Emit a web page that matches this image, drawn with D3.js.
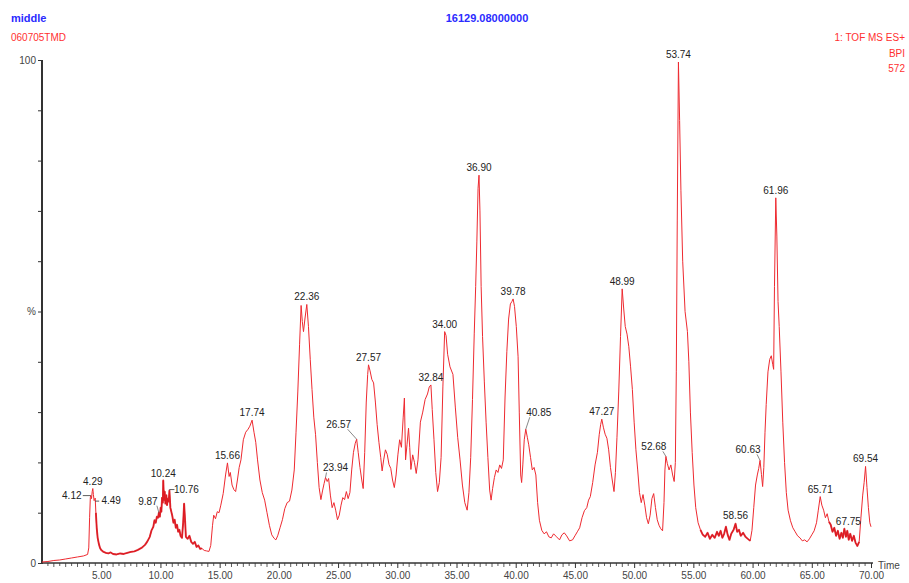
<!DOCTYPE html>
<html>
<head>
<meta charset="utf-8">
<script src="https://cdn.jsdelivr.net/npm/d3@7/dist/d3.min.js"></script>
<style>
  html, body { margin: 0; padding: 0; background: #ffffff; }
  svg { display: block; }
  text { font-family: "Liberation Sans", Arial, sans-serif; }
</style>
</head>
<body>
<svg id="chart" width="909" height="583"></svg>
<script>
// Base peak intensity chromatogram: retention time (min) and relative intensity (%)
const times = [
  0.0,0.5,1.0,1.5,2.0,2.5,3.0,3.5,3.85,3.95,4.02,4.08,4.12,4.18,4.24,4.29,4.34,4.40,4.45,4.49,
  4.55,4.62,4.7,4.8,4.9,5.0,5.2,5.4,5.6,5.8,6.0,6.3,6.6,6.9,7.2,7.5,7.8,8.1,8.4,8.7,
  8.9,9.1,9.25,9.4,9.5,9.6,9.7,9.8,9.87,9.95,10.02,10.08,10.14,10.2,10.24,10.3,10.36,10.42,10.5,10.56,
  10.62,10.7,10.76,10.84,10.92,11.0,11.1,11.2,11.3,11.4,11.5,11.6,11.7,11.82,11.92,12.0,12.08,12.15,12.3,12.45,
  12.6,12.75,12.9,13.05,13.2,13.35,13.5,13.7,13.9,14.1,14.25,14.4,14.5,14.65,14.8,14.95,15.1,15.3,15.5,15.66,
  15.8,15.9,16.05,16.2,16.35,16.5,16.65,16.8,17.0,17.2,17.4,17.55,17.74,17.9,18.05,18.2,18.4,18.6,18.8,19.0,
  19.2,19.4,19.6,19.75,19.9,20.1,20.3,20.5,20.7,20.9,21.1,21.3,21.45,21.6,21.75,21.88,21.98,22.08,22.2,22.36,
  22.5,22.65,22.8,22.95,23.1,23.25,23.4,23.55,23.7,23.82,23.94,24.08,24.2,24.35,24.5,24.65,24.8,24.95,25.1,25.25,
  25.4,25.55,25.7,25.85,26.0,26.15,26.3,26.45,26.57,26.7,26.85,27.0,27.12,27.25,27.38,27.5,27.57,27.7,27.85,28.0,
  28.15,28.3,28.45,28.6,28.72,28.85,29.0,29.15,29.3,29.45,29.6,29.75,29.9,30.05,30.2,30.35,30.5,30.6,30.7,30.82,
  30.95,31.05,31.15,31.3,31.45,31.6,31.75,31.95,32.15,32.35,32.55,32.7,32.84,32.95,33.1,33.25,33.4,33.55,33.7,33.85,
  34.0,34.12,34.25,34.45,34.7,34.9,35.1,35.3,35.5,35.7,35.9,36.05,36.2,36.35,36.5,36.62,36.72,36.82,36.9,36.98,
  37.08,37.2,37.35,37.5,37.65,37.8,37.92,38.05,38.2,38.35,38.5,38.65,38.8,38.95,39.1,39.25,39.4,39.55,39.68,39.78,
  39.9,40.05,40.2,40.3,40.42,40.5,40.6,40.72,40.85,40.98,41.1,41.25,41.4,41.55,41.7,41.85,42.0,42.2,42.4,42.6,
  42.8,43.0,43.2,43.45,43.7,43.9,44.1,44.3,44.55,44.8,45.0,45.2,45.4,45.6,45.8,46.0,46.15,46.3,46.5,46.7,
  46.9,47.05,47.17,47.27,47.4,47.55,47.7,47.85,48.0,48.15,48.3,48.42,48.55,48.7,48.85,48.99,49.12,49.25,49.4,49.55,
  49.7,49.85,50.0,50.15,50.3,50.45,50.6,50.75,50.9,51.05,51.2,51.35,51.5,51.65,51.8,51.95,52.1,52.25,52.4,52.52,
  52.6,52.68,52.8,52.95,53.1,53.25,53.38,53.48,53.56,53.64,53.74,53.84,53.95,54.1,54.3,54.5,54.62,54.75,54.9,55.05,
  55.2,55.4,55.6,55.8,56.0,56.2,56.4,56.6,56.8,57.0,57.15,57.3,57.45,57.6,57.75,57.9,58.05,58.2,58.4,58.56,
  58.7,58.85,59.0,59.2,59.4,59.6,59.8,59.95,60.1,60.25,60.4,60.52,60.63,60.75,60.85,60.95,61.05,61.15,61.3,61.45,
  61.58,61.7,61.78,61.85,61.96,62.05,62.15,62.25,62.4,62.55,62.7,62.85,63.0,63.2,63.4,63.6,63.8,64.0,64.2,64.4,
  64.6,64.8,65.0,65.2,65.4,65.55,65.71,65.85,66.0,66.15,66.3,66.45,66.6,66.75,66.9,67.05,67.2,67.35,67.5,67.62,
  67.75,67.88,68.0,68.12,68.25,68.4,68.55,68.7,68.85,69.0,69.15,69.3,69.42,69.54,69.66,69.78,69.9,70.0
];
const intensity = [
  0.2,0.3,0.5,0.6,0.8,1.0,1.2,1.4,1.7,3.0,9.0,13.0,13.4,12.8,14.2,14.8,13.6,12.4,12.6,12.9,
  10.0,7.0,5.0,3.8,3.0,2.6,2.2,2.0,1.9,2.1,1.8,1.7,1.9,1.8,2.0,2.2,2.3,2.6,3.0,3.6,
  4.3,5.2,6.5,7.2,8.5,8.0,9.2,9.0,10.0,9.2,11.0,10.2,13.0,12.0,16.4,12.5,14.2,11.8,13.5,11.5,
  12.8,12.2,14.4,11.0,10.2,9.4,8.0,8.6,7.0,7.6,6.2,6.6,5.4,5.0,8.0,11.8,8.5,5.2,4.8,5.4,
  4.2,3.8,4.2,3.2,3.5,2.8,2.9,2.5,2.4,2.3,3.5,7.5,9.5,8.8,10.2,10.0,11.5,13.8,17.5,19.9,
  17.2,18.0,15.5,14.6,14.2,16.5,19.0,20.5,24.5,26.0,26.6,27.2,28.4,26.0,24.0,20.5,16.5,14.0,12.5,10.0,
  7.5,5.6,4.9,4.6,5.4,7.0,8.6,10.8,12.0,12.3,14.5,18.5,26.0,34.0,43.5,51.2,48.0,46.0,48.5,51.4,
  47.0,40.5,34.5,29.0,25.5,20.0,15.0,12.6,14.5,15.8,17.0,16.2,16.8,13.5,11.0,12.0,10.5,8.6,9.5,11.5,
  13.0,12.6,14.2,12.8,14.0,18.5,22.0,23.8,24.6,22.0,19.0,16.5,14.8,22.0,32.0,37.5,39.4,38.2,36.5,35.8,
  32.0,27.5,24.0,21.0,18.3,20.5,22.5,21.6,19.6,18.8,16.5,15.0,17.5,21.5,24.5,23.0,29.0,32.8,20.5,23.5,
  26.8,23.0,18.6,21.5,20.0,17.8,20.5,28.0,30.0,32.5,33.6,35.0,35.4,30.5,24.5,18.0,14.2,16.0,21.0,35.0,
  46.0,45.2,41.5,39.0,37.5,31.0,25.0,20.5,15.5,12.0,10.5,14.0,21.0,32.5,45.7,55.0,64.0,74.5,77.1,70.0,
  55.0,45.0,36.0,28.0,21.0,14.5,12.5,14.8,17.0,18.5,18.0,19.5,18.8,20.5,33.0,42.0,48.5,51.5,52.0,52.5,
  51.0,47.0,41.0,30.0,17.5,16.0,19.5,24.5,26.6,25.0,23.5,21.0,18.5,19.0,17.5,12.0,8.5,6.5,5.8,6.2,
  5.2,5.0,5.8,5.2,4.6,5.6,6.0,5.4,4.4,4.6,5.4,6.2,7.0,9.0,10.4,11.0,12.5,13.2,16.0,19.5,
  22.0,25.5,27.5,28.6,27.0,25.6,24.8,22.5,19.0,16.5,14.2,18.0,25.0,34.0,45.0,54.5,50.5,47.0,45.5,43.0,
  39.0,34.5,28.0,22.5,18.5,14.0,12.0,13.6,11.5,9.0,7.8,9.5,12.8,13.8,11.0,8.6,7.5,6.8,6.4,12.0,
  18.5,21.2,19.8,18.5,19.5,17.5,16.2,20.0,38.0,68.0,99.6,88.0,74.0,60.0,50.0,46.0,40.0,30.0,22.0,15.5,
  11.0,8.0,6.6,5.6,5.2,6.0,4.8,5.6,5.0,6.2,5.4,6.4,5.0,5.8,7.2,5.6,4.6,5.8,6.6,7.8,
  6.2,6.6,5.4,6.0,5.2,4.8,4.4,6.5,11.0,15.5,17.5,18.8,20.4,17.6,15.2,19.0,26.0,31.5,38.0,40.5,
  41.2,39.5,38.5,55.0,72.6,65.0,52.0,47.0,38.0,28.0,20.0,14.0,10.5,8.4,7.0,6.2,5.4,5.0,4.4,4.6,
  4.2,4.8,5.6,6.4,8.0,10.5,13.2,11.5,10.5,9.0,9.8,8.2,7.6,6.2,7.0,5.4,6.4,4.8,6.0,5.0,
  6.8,5.2,6.4,4.6,5.8,4.4,5.4,4.0,3.4,4.2,9.0,13.5,16.0,19.2,15.0,11.0,8.0,7.2
];

// Annotated peaks (retention times drawn as labels)
const peakTimes  = [4.12, 4.29, 4.49, 9.87, 10.24, 10.76, 15.66, 17.74, 22.36, 23.94, 26.57, 27.57,
                    32.84, 34.00, 36.90, 39.78, 40.85, 47.27, 48.99, 52.68, 53.74, 58.56, 60.63, 61.96,
                    65.71, 67.75, 69.54];
const peakLabels = peakTimes.map(t => t.toFixed(2));

// Axis ticks
const xMajorTicks = [5, 10, 15, 20, 25, 30, 35, 40, 45, 50, 55, 60, 65, 70];
const yTickValues = [0, 10, 20, 30, 40, 50, 60, 70, 80, 90, 100];
const yTickLabels = { 0: "0", 50: "%", 100: "100" };

// Header text
const headerLeft  = ["middle", "060705TMD"];
const headerMid   = "16129.08000000";
const headerRight = ["1: TOF MS ES+", "BPI", "572"];

// Dense low-level stretches that the acquisition renders as a heavier band (min)
const noisyRanges = [[4.5, 13.6], [55.6, 59.9], [66.4, 69.1]];

const svg = d3.select("#chart");
const x = d3.scaleLinear().domain([0, 70]).range([42, 871]);
const y = d3.scaleLinear().domain([0, 100]).range([563, 60]);

const blue = "#2b2bff", red = "#ff3030", ink = "#333333";

// Header
svg.append("text").attr("x", 11).attr("y", 22).attr("fill", blue)
  .attr("font-size", 11).attr("font-weight", "bold").text(headerLeft[0]);
svg.append("text").attr("x", 11).attr("y", 41).attr("fill", red)
  .attr("font-size", 10).text(headerLeft[1]);
svg.append("text").attr("x", 487).attr("y", 22).attr("fill", blue)
  .attr("font-size", 11).attr("font-weight", "bold").attr("text-anchor", "middle").text(headerMid);
headerRight.forEach((s, i) => {
  svg.append("text").attr("x", 905).attr("y", 41 + i * 15.5).attr("fill", red)
    .attr("font-size", 10).attr("text-anchor", "end").text(s);
});

// X axis: major ticks with labels, minor ticks every half minute
const xAxis = d3.axisBottom(x).tickValues(xMajorTicks)
  .tickFormat(d3.format(".2f")).tickSize(5).tickPadding(4);
const gx = svg.append("g").attr("transform", `translate(0,${y(0)})`).call(xAxis);
gx.select(".domain").attr("stroke", ink).attr("stroke-width", 1.5).attr("d", `M${x(0)},0H${x(70)+2}`);
gx.selectAll(".tick line").attr("stroke", ink);
gx.selectAll(".tick text").attr("fill", "#444").attr("font-size", 10)
  .attr("font-family", "Liberation Sans, Arial, sans-serif");
const minor = d3.range(0.5, 70.01, 0.5).filter(v => v % 5 !== 0);
svg.append("g").selectAll("line").data(minor).join("line")
  .attr("x1", d => x(d)).attr("x2", d => x(d))
  .attr("y1", y(0)).attr("y2", d => y(0) + (d % 1 === 0 ? 4 : 3))
  .attr("stroke", ink).attr("stroke-width", 0.8);
svg.append("text").attr("x", 878).attr("y", 569).attr("fill", "#444")
  .attr("font-size", 10).text("Time");

// Y axis
const yAxis = d3.axisLeft(y).tickValues(yTickValues)
  .tickFormat(d => yTickLabels[d] || "").tickSize(4).tickPadding(2);
const gy = svg.append("g").attr("transform", `translate(${x(0)},0)`).call(yAxis);
gy.select(".domain").attr("stroke", ink).attr("stroke-width", 2).attr("d", `M0,${y(100)}V${y(0)+1}`);
gy.selectAll(".tick line").attr("stroke", ink);
gy.selectAll(".tick text").attr("fill", "#444").attr("font-size", 10)
  .attr("font-family", "Liberation Sans, Arial, sans-serif");

// Trace
const pts = times.map((t, i) => [t, intensity[i]]);
const line = d3.line().x(d => x(d[0])).y(d => y(d[1]));
svg.append("path").datum(pts).attr("d", line)
  .attr("fill", "none").attr("stroke", "#ee2a30").attr("stroke-width", 1)
  .attr("stroke-linejoin", "round");
// heavier overlay over the dense low-level stretches
noisyRanges.forEach(([a, b]) => {
  const seg = pts.filter(d => d[0] >= a && d[0] <= b);
  svg.append("path").datum(seg).attr("d", line)
    .attr("fill", "none").attr("stroke", "#d9141c").attr("stroke-width", 1.9)
    .attr("stroke-linejoin", "round").attr("opacity", 0.85);
});

// Peak labels
const valueAt = t => {
  const i = d3.bisectLeft(times, t);
  return intensity[Math.min(i, intensity.length - 1)];
};
// label placement: dx/dy from the apex, and optional leader line
const place = {
  "4.12":  { dx: -19, dy: 3, dash: "right" },
  "4.49":  { dx: 16, dy: 6, dash: "left" },
  "9.87":  { dx: -11, dy: -8, leader: true },
  "10.76": { dx: 17, dy: 2, dash: "left" },
  "23.94": { dx: 10, dy: -6, leader: true },
  "26.57": { dx: -18, dy: -11, leader: true },
  "40.85": { dx: 13, dy: -13, leader: true },
  "52.68": { dx: -12, dy: -6, leader: true },
  "60.63": { dx: -12, dy: -7, leader: true },
  "58.56": { dx: 0, dy: -5 },
  "67.75": { dx: 4, dy: -4 }
};
const gl = svg.append("g");
peakTimes.forEach((t, i) => {
  const lab = peakLabels[i];
  const p = place[lab] || { dx: 0, dy: -4 };
  const px = x(t), py = y(valueAt(t));
  const tx = px + p.dx, ty = py + p.dy;
  gl.append("text").attr("x", tx).attr("y", ty)
    .attr("text-anchor", "middle").attr("font-size", 10).attr("fill", "#222")
    .text(lab);
  if (p.leader) {
    const lx = tx + (p.dx < 0 ? 9 : -9);
    gl.append("line").attr("x1", lx).attr("y1", ty + 1).attr("x2", px).attr("y2", py)
      .attr("stroke", "#555").attr("stroke-width", 0.7);
  }
  if (p.dash === "right") {
    gl.append("line").attr("x1", tx + 11).attr("x2", px).attr("y1", ty - 3).attr("y2", ty - 3)
      .attr("stroke", "#333").attr("stroke-width", 0.8);
  }
  if (p.dash === "left") {
    gl.append("line").attr("x1", px).attr("x2", tx - 12).attr("y1", ty - 3).attr("y2", ty - 3)
      .attr("stroke", "#333").attr("stroke-width", 0.8);
  }
});
</script>
</body>
</html>
